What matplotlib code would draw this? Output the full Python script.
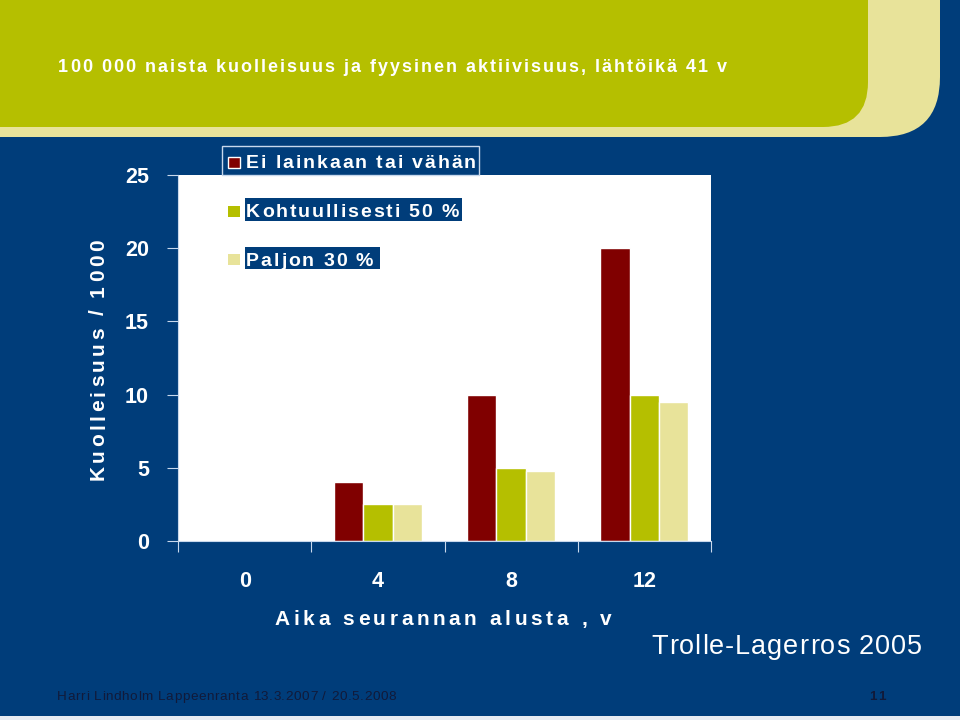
import matplotlib.pyplot as plt
from matplotlib.patches import FancyBboxPatch, Rectangle
from matplotlib.font_manager import FontProperties

# data
categories = ["0", "4", "8", "12"]
series = ["Ei lainkaan tai vähän", "Kohtuullisesti 50 %", "Paljon 30 %"]
low = [0, 4, 10, 20]
moderate = [0, 2.5, 5, 10]
high = [0, 2.5, 4.8, 9.5]
yticks = [0, 5, 10, 15, 20, 25]

title = "100 000 naista kuolleisuus ja fyysinen aktiivisuus, lähtöikä 41 v"
ylabel = "Kuolleisuus / 1000"
xlabel = "Aika seurannan alusta , v"
source = "Trolle-Lagerros 2005"
footer = "Harri Lindholm Lappeenranta 13.3.2007 / 20.5.2008"
page = "11"

blue = "#003d7a"
red = "#800000"
green = "#b5bf00"
cream = "#e8e39a"
colors = [red, green, cream]
FONT = ["Liberation Sans", "DejaVu Sans"]

plt.rcParams["font.family"] = FONT

fig = plt.figure(figsize=(9.6, 7.2), dpi=100)
fig.patch.set_facecolor(blue)
renderer = fig.canvas.get_renderer()


def tracked(ax, x, y, s, track, size, weight="normal", ha="left", vertical=False, color="white"):
    # letter-spaced text, x/y = start of baseline in pixel coords (y down)
    fp = FontProperties(family=FONT, size=size, weight=weight)
    ref = renderer.get_text_width_height_descent("x", fp, ismath=False)[0]

    def w(t):
        if not t:
            return 0
        return renderer.get_text_width_height_descent(t + "x", fp, ismath=False)[0] - ref

    total = w(s) + track * (len(s) - 1)
    off = {"left": 0, "center": total / 2, "right": total}[ha]
    for i, ch in enumerate(s):
        d = w(s[:i]) + track * i - off
        if vertical:
            ax.text(x, y - d, ch, fontproperties=fp, color=color, rotation=90,
                    rotation_mode="anchor", ha="left", va="baseline")
        else:
            ax.text(x + d, y, ch, fontproperties=fp, color=color, ha="left", va="baseline")


#  Background shapes (pixel coords, y down)
bg = fig.add_axes([0, 0, 1, 1], zorder=0)
bg.set_xlim(0, 960)
bg.set_ylim(720, 0)
bg.axis("off")
bg.add_patch(FancyBboxPatch((-200, -200), 1140, 337, boxstyle="round,pad=0,rounding_size=60",
                            fc=cream, ec="none"))
bg.add_patch(FancyBboxPatch((-200, -200), 1068, 327, boxstyle="round,pad=0,rounding_size=45",
                            fc=green, ec="none"))
bg.add_patch(Rectangle((0, 716), 960, 4, fc="#e8ecf2", ec="none"))

tracked(bg, 58, 72, title, 2.0, 13, weight="bold")
tracked(bg, 104, 360, ylabel, 3.4, 15, weight="bold", ha="center", vertical=True)
tracked(bg, 443, 625, xlabel, 3.6, 15, weight="bold", ha="center")
tracked(bg, 922, 654, source, 1.0, 19.5, ha="right")
tracked(bg, 57, 700, footer, 0.6, 9.7, color="#111a3a")
tracked(bg, 877, 700, page, 1.0, 9.7, weight="bold", ha="center", color="#111a3a")

#  Chart
ax = fig.add_axes([178 / 960, 1 - 541 / 720, (711 - 178) / 960, (541 - 175) / 720], zorder=1)
ax.set_facecolor("white")
x = list(range(len(categories)))
w = 0.22
for i, (vals, c) in enumerate(zip([low, moderate, high], colors)):
    ax.bar([k + (i - 1) * w for k in x], vals, width=w, color=c, edgecolor="white", linewidth=1)

ax.set_xlim(-0.5, len(categories) - 0.5)
ax.set_ylim(0, 25)
ax.set_yticks(yticks)
ax.set_yticklabels([str(t) for t in yticks], color="white", fontsize=15.5, fontweight="bold")
ax.set_xticks([k - 0.5 for k in range(len(categories) + 1)])
ax.set_xticklabels([])
ax.set_xticks(x, minor=True)
ax.set_xticklabels(categories, minor=True, color="white", fontsize=15.5, fontweight="bold")
ax.tick_params(axis="x", which="major", direction="out", length=8, color="#c8d8ec")
ax.tick_params(axis="x", which="minor", length=0, pad=21.5)
ax.tick_params(axis="y", direction="out", length=8, color="#c8d8ec", pad=13)
for s in ["top", "right"]:
    ax.spines[s].set_visible(False)
for s in ["left", "bottom"]:
    ax.spines[s].set_color("#c8d8ec")

#  Legend drawn by hand
ov = fig.add_axes([0, 0, 1, 1], zorder=5)
ov.set_xlim(0, 960)
ov.set_ylim(720, 0)
ov.axis("off")
ov.patch.set_alpha(0)
ov.add_patch(Rectangle((222, 146), 257, 29, fc=blue, ec="#c8d8ec", lw=1))
ov.add_patch(Rectangle((245, 198), 217, 23, fc=blue, ec="none"))
ov.add_patch(Rectangle((245, 247), 135, 22, fc=blue, ec="none"))
leg_base = [168, 217, 266]
leg_box = [157, 206, 254]
for name, c, yb, ym in zip(series, colors, leg_base, leg_box):
    ov.add_patch(Rectangle((228, ym), 12, 11, fc=c, ec="white" if c == red else "none", lw=1))
    tracked(ov, 246, yb, name, 1.9, 14, weight="bold")

fig.savefig("out.png", dpi=100, facecolor=fig.get_facecolor())
